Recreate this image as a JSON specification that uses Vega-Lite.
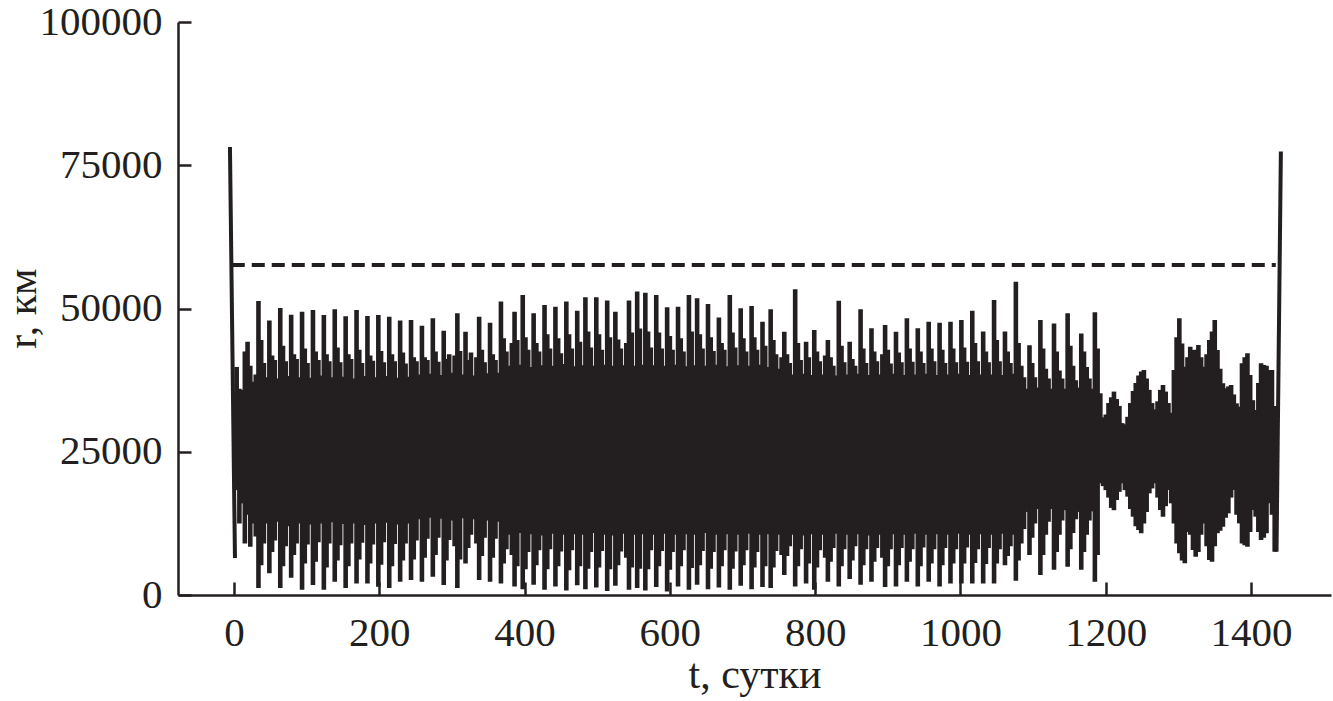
{
"$schema":"https://vega.github.io/schema/vega-lite/v6.json",
"width":1153,"height":573,
"autosize":{"type":"none"},
"padding":{"left":178,"top":22,"right":2,"bottom":106},
"background":"white",
"config":{"view":{"stroke":null}},
"datasets":{
"osc":[
{"t":3.75,"r":18300,"r2":39800},{"t":7.5,"r":12500,"r2":36000},{"t":11.25,"r":16000,"r2":35800},{"t":15,"r":9000,"r2":42500},
{"t":18.75,"r":14000,"r2":44200},{"t":22.5,"r":8400,"r2":40000},{"t":26.25,"r":12500,"r2":37200},{"t":30,"r":10200,"r2":38500},
{"t":33.75,"r":1200,"r2":51300},{"t":37.5,"r":5200,"r2":44500},{"t":41.25,"r":9000,"r2":40500},{"t":45,"r":12500,"r2":38000},
{"t":48.75,"r":3800,"r2":47900},{"t":52.5,"r":7500,"r2":41800},{"t":56.25,"r":9500,"r2":41000},{"t":60,"r":12800,"r2":37800},
{"t":63.75,"r":1200,"r2":50100},{"t":67.5,"r":5000,"r2":43500},{"t":71.25,"r":8500,"r2":40800},{"t":75,"r":12000,"r2":38200},
{"t":78.75,"r":3000,"r2":48900},{"t":82.5,"r":7000,"r2":42000},{"t":86.25,"r":9000,"r2":41200},{"t":90,"r":12500,"r2":38000},
{"t":93.75,"r":900,"r2":49450},{"t":97.5,"r":5500,"r2":43000},{"t":101.25,"r":8800,"r2":40500},{"t":105,"r":12300,"r2":37900},
{"t":108.75,"r":1750,"r2":49740},{"t":112.5,"r":5800,"r2":42500},{"t":116.25,"r":9200,"r2":41000},{"t":120,"r":12500,"r2":38300},
{"t":123.75,"r":900,"r2":48870},{"t":127.5,"r":4800,"r2":42000},{"t":131.25,"r":9000,"r2":40800},{"t":135,"r":12700,"r2":38000},
{"t":138.75,"r":2300,"r2":49860},{"t":142.5,"r":6000,"r2":43200},{"t":146.25,"r":8700,"r2":40600},{"t":150,"r":12400,"r2":38100},
{"t":153.75,"r":1200,"r2":48650},{"t":157.5,"r":5000,"r2":42000},{"t":161.25,"r":9000,"r2":41200},{"t":165,"r":12500,"r2":37800},
{"t":168.75,"r":2000,"r2":49740},{"t":172.5,"r":6200,"r2":42800},{"t":176.25,"r":9100,"r2":40500},{"t":180,"r":12200,"r2":38200},
{"t":183.75,"r":2000,"r2":48700},{"t":187.5,"r":5500,"r2":41800},{"t":191.25,"r":8800,"r2":40900},{"t":195,"r":12500,"r2":38000},
{"t":198.75,"r":1450,"r2":48870},{"t":202.5,"r":5300,"r2":42600},{"t":206.25,"r":9200,"r2":40600},{"t":210,"r":12600,"r2":38200},
{"t":213.75,"r":1200,"r2":48570},{"t":217.5,"r":5000,"r2":42000},{"t":221.25,"r":8900,"r2":40800},{"t":225,"r":12300,"r2":37900},
{"t":228.75,"r":2300,"r2":47900},{"t":232.5,"r":6000,"r2":42300},{"t":236.25,"r":9000,"r2":40400},{"t":240,"r":12500,"r2":38100},
{"t":243.75,"r":2600,"r2":48000},{"t":247.5,"r":6200,"r2":41500},{"t":251.25,"r":9500,"r2":40800},{"t":255,"r":13200,"r2":38500},
{"t":258.75,"r":2300,"r2":47000},{"t":262.5,"r":6500,"r2":41500},{"t":266.25,"r":9800,"r2":41000},{"t":270,"r":13500,"r2":38600},
{"t":273.75,"r":3200,"r2":48300},{"t":277.5,"r":7000,"r2":42500},{"t":281.25,"r":10000,"r2":40700},{"t":285,"r":13300,"r2":38400},
{"t":288.75,"r":1750,"r2":46100},{"t":292.5,"r":6000,"r2":41200},{"t":296.25,"r":9600,"r2":42000},{"t":300,"r":13000,"r2":38800},
{"t":303.75,"r":8500,"r2":41800},{"t":307.5,"r":1200,"r2":49150},{"t":311.25,"r":6200,"r2":42600},{"t":315,"r":13400,"r2":38500},
{"t":318.75,"r":5500,"r2":45950},{"t":322.5,"r":8200,"r2":41000},{"t":326.25,"r":10500,"r2":42300},{"t":330,"r":13200,"r2":38300},
{"t":333.75,"r":9000,"r2":41500},{"t":337.5,"r":2600,"r2":48570},{"t":341.25,"r":6800,"r2":42800},{"t":345,"r":10000,"r2":40600},
{"t":348.75,"r":13000,"r2":38700},{"t":352.5,"r":2300,"r2":47520},{"t":356.25,"r":6500,"r2":42000},{"t":360,"r":9800,"r2":41000},
{"t":363.75,"r":12800,"r2":38800},{"t":367.5,"r":2000,"r2":51200},{"t":371.25,"r":5500,"r2":44800},{"t":375,"r":8000,"r2":42500},
{"t":378.75,"r":10500,"r2":40000},{"t":382.5,"r":7000,"r2":44000},{"t":386.25,"r":1500,"r2":49450},{"t":390,"r":5000,"r2":44500},
{"t":393.75,"r":10800,"r2":40200},{"t":397.5,"r":1000,"r2":52350},{"t":401.25,"r":4500,"r2":45000},{"t":405,"r":7500,"r2":42800},
{"t":408.75,"r":10600,"r2":39800},{"t":412.5,"r":1800,"r2":49150},{"t":416.25,"r":5200,"r2":44000},{"t":420,"r":7800,"r2":42500},
{"t":423.75,"r":10400,"r2":40100},{"t":427.5,"r":900,"r2":50600},{"t":431.25,"r":4500,"r2":45500},{"t":435,"r":8000,"r2":43000},
{"t":438.75,"r":10700,"r2":40000},{"t":442.5,"r":1500,"r2":50300},{"t":446.25,"r":5000,"r2":44800},{"t":450,"r":7600,"r2":42200},
{"t":453.75,"r":10500,"r2":40300},{"t":457.5,"r":800,"r2":51200},{"t":461.25,"r":4300,"r2":45500},{"t":465,"r":7800,"r2":43000},
{"t":468.75,"r":10600,"r2":39900},{"t":472.5,"r":1700,"r2":49600},{"t":476.25,"r":5000,"r2":44200},{"t":480,"r":10500,"r2":40100},
{"t":483.75,"r":1000,"r2":51950},{"t":487.5,"r":4600,"r2":46000},{"t":491.25,"r":7500,"r2":43200},{"t":495,"r":10800,"r2":40000},
{"t":498.75,"r":1300,"r2":51950},{"t":502.5,"r":4800,"r2":45500},{"t":506.25,"r":7700,"r2":42800},{"t":510,"r":10500,"r2":40200},
{"t":513.75,"r":700,"r2":51400},{"t":517.5,"r":4500,"r2":45000},{"t":521.25,"r":10400,"r2":40000},{"t":525,"r":1600,"r2":49450},
{"t":528.75,"r":5200,"r2":44600},{"t":532.5,"r":7600,"r2":43000},{"t":536.25,"r":10700,"r2":40100},{"t":540,"r":6500,"r2":44000},
{"t":543.75,"r":900,"r2":51400},{"t":547.5,"r":4800,"r2":45800},{"t":551.25,"r":10500,"r2":40000},{"t":555,"r":1200,"r2":52950},
{"t":558.75,"r":4600,"r2":46500},{"t":562.5,"r":10600,"r2":40200},{"t":566.25,"r":800,"r2":52770},{"t":570,"r":4500,"r2":46000},
{"t":573.75,"r":7800,"r2":43200},{"t":577.5,"r":10500,"r2":40100},{"t":581.25,"r":1400,"r2":52350},{"t":585,"r":5000,"r2":45800},
{"t":588.75,"r":7700,"r2":43000},{"t":592.5,"r":10700,"r2":40000},{"t":596.25,"r":600,"r2":50200},{"t":600,"r":4400,"r2":45200},
{"t":603.75,"r":7500,"r2":42800},{"t":607.5,"r":10500,"r2":40200},{"t":611.25,"r":1500,"r2":50300},{"t":615,"r":5000,"r2":44800},
{"t":618.75,"r":7800,"r2":42500},{"t":622.5,"r":10600,"r2":39900},{"t":626.25,"r":900,"r2":52350},{"t":630,"r":4700,"r2":46000},
{"t":633.75,"r":10500,"r2":40100},{"t":637.5,"r":1800,"r2":51780},{"t":641.25,"r":5200,"r2":45500},{"t":645,"r":7700,"r2":43000},
{"t":648.75,"r":10800,"r2":40000},{"t":652.5,"r":1000,"r2":50790},{"t":656.25,"r":4600,"r2":45000},{"t":660,"r":7500,"r2":42600},
{"t":663.75,"r":10500,"r2":40200},{"t":667.5,"r":1300,"r2":48450},{"t":671.25,"r":5000,"r2":44000},{"t":675,"r":7800,"r2":42800},
{"t":678.75,"r":10600,"r2":39900},{"t":682.5,"r":900,"r2":52350},{"t":686.25,"r":4600,"r2":45800},{"t":690,"r":7600,"r2":43200},
{"t":693.75,"r":10500,"r2":40100},{"t":697.5,"r":1600,"r2":50030},{"t":701.25,"r":5200,"r2":44800},{"t":705,"r":7800,"r2":42500},
{"t":708.75,"r":10700,"r2":40000},{"t":712.5,"r":1000,"r2":50440},{"t":716.25,"r":4800,"r2":45000},{"t":720,"r":7500,"r2":42800},
{"t":723.75,"r":10500,"r2":40200},{"t":727.5,"r":1400,"r2":47700},{"t":731.25,"r":5000,"r2":43500},{"t":735,"r":10600,"r2":39800},
{"t":738.75,"r":1200,"r2":49860},{"t":742.5,"r":4800,"r2":44500},{"t":746.25,"r":7700,"r2":42000},{"t":750,"r":10500,"r2":39500},
{"t":753.75,"r":7000,"r2":41500},{"t":757.5,"r":3500,"r2":45950},{"t":761.25,"r":6800,"r2":42000},{"t":765,"r":8500,"r2":40500},
{"t":768.75,"r":10500,"r2":38500},{"t":772.5,"r":1500,"r2":53350},{"t":776.25,"r":5000,"r2":44000},{"t":780,"r":8000,"r2":41000},
{"t":783.75,"r":10400,"r2":38600},{"t":787.5,"r":2000,"r2":44200},{"t":791.25,"r":5500,"r2":41500},{"t":795,"r":10600,"r2":38400},
{"t":798.75,"r":900,"r2":46250},{"t":802.5,"r":4800,"r2":42500},{"t":806.25,"r":7800,"r2":40800},{"t":810,"r":10500,"r2":38500},
{"t":813.75,"r":6500,"r2":41800},{"t":817.5,"r":2300,"r2":44500},{"t":821.25,"r":5800,"r2":41500},{"t":825,"r":8200,"r2":40000},
{"t":828.75,"r":10700,"r2":38300},{"t":832.5,"r":1500,"r2":51360},{"t":836.25,"r":5000,"r2":43500},{"t":840,"r":8000,"r2":40600},
{"t":843.75,"r":10500,"r2":38500},{"t":847.5,"r":2800,"r2":44200},{"t":851.25,"r":6000,"r2":41200},{"t":855,"r":8500,"r2":40000},
{"t":858.75,"r":10600,"r2":38600},{"t":862.5,"r":1800,"r2":49860},{"t":866.25,"r":5200,"r2":43000},{"t":870,"r":8000,"r2":40500},
{"t":873.75,"r":10400,"r2":38400},{"t":877.5,"r":2300,"r2":46540},{"t":881.25,"r":5800,"r2":42500},{"t":885,"r":8200,"r2":40800},
{"t":888.75,"r":10500,"r2":38500},{"t":892.5,"r":6500,"r2":42000},{"t":896.25,"r":1400,"r2":47120},{"t":900,"r":5000,"r2":42800},
{"t":903.75,"r":8000,"r2":40400},{"t":907.5,"r":10600,"r2":38600},{"t":911.25,"r":1500,"r2":45950},{"t":915,"r":5200,"r2":42300},
{"t":918.75,"r":8200,"r2":40600},{"t":922.5,"r":10500,"r2":38400},{"t":926.25,"r":2300,"r2":48290},{"t":930,"r":5800,"r2":43000},
{"t":933.75,"r":8000,"r2":40700},{"t":937.5,"r":10700,"r2":38500},{"t":941.25,"r":1500,"r2":46540},{"t":945,"r":5000,"r2":42500},
{"t":948.75,"r":8300,"r2":40500},{"t":952.5,"r":10500,"r2":38600},{"t":956.25,"r":2300,"r2":47700},{"t":960,"r":5500,"r2":43000},
{"t":963.75,"r":8000,"r2":40800},{"t":967.5,"r":10600,"r2":38400},{"t":971.25,"r":1500,"r2":47520},{"t":975,"r":5200,"r2":42800},
{"t":978.75,"r":8200,"r2":40500},{"t":982.5,"r":10500,"r2":38500},{"t":986.25,"r":2000,"r2":47700},{"t":990,"r":5500,"r2":43000},
{"t":993.75,"r":8000,"r2":40600},{"t":997.5,"r":10700,"r2":38600},{"t":1001.25,"r":2000,"r2":48000},{"t":1005,"r":5500,"r2":43200},
{"t":1008.75,"r":8300,"r2":40700},{"t":1012.5,"r":10500,"r2":38400},{"t":1016.25,"r":2000,"r2":49600},{"t":1020,"r":5600,"r2":44000},
{"t":1023.75,"r":8000,"r2":40800},{"t":1027.5,"r":10600,"r2":38500},{"t":1031.25,"r":2000,"r2":46000},{"t":1035,"r":5400,"r2":42500},
{"t":1038.75,"r":8200,"r2":40600},{"t":1042.5,"r":10500,"r2":38500},{"t":1046.25,"r":2000,"r2":51500},{"t":1050,"r":5500,"r2":44500},
{"t":1053.75,"r":8000,"r2":40800},{"t":1057.5,"r":10700,"r2":38400},{"t":1061.25,"r":5200,"r2":46000},{"t":1065,"r":6800,"r2":42500},
{"t":1068.75,"r":8500,"r2":40500},{"t":1072.5,"r":10500,"r2":38600},{"t":1076.25,"r":2500,"r2":54680},{"t":1080,"r":6000,"r2":44000},
{"t":1083.75,"r":9000,"r2":40000},{"t":1087.5,"r":11500,"r2":38000},{"t":1091.25,"r":14500,"r2":36000},{"t":1095,"r":7000,"r2":43600},
{"t":1098.75,"r":10000,"r2":40500},{"t":1102.5,"r":12500,"r2":38000},{"t":1106.25,"r":15000,"r2":36200},{"t":1110,"r":3500,"r2":48000},
{"t":1113.75,"r":7000,"r2":43000},{"t":1117.5,"r":10500,"r2":39500},{"t":1121.25,"r":12800,"r2":37800},{"t":1125,"r":15000,"r2":36000},
{"t":1128.75,"r":4400,"r2":47400},{"t":1132.5,"r":7500,"r2":42500},{"t":1136.25,"r":10500,"r2":39200},{"t":1140,"r":13000,"r2":37800},
{"t":1143.75,"r":14800,"r2":36000},{"t":1147.5,"r":4940,"r2":49150},{"t":1151.25,"r":8000,"r2":43500},{"t":1155,"r":10800,"r2":40000},
{"t":1158.75,"r":13200,"r2":37500},{"t":1162.5,"r":14500,"r2":36200},{"t":1166.25,"r":4400,"r2":45650},{"t":1170,"r":7500,"r2":42500},
{"t":1173.75,"r":10500,"r2":39800},{"t":1177.5,"r":13000,"r2":37800},{"t":1181.25,"r":14600,"r2":36000},{"t":1185,"r":2300,"r2":49350},
{"t":1188.75,"r":7000,"r2":43000},{"t":1192.5,"r":19490,"r2":35200},{"t":1196.25,"r":19000,"r2":31000},{"t":1200,"r":18300,"r2":31500},
{"t":1203.75,"r":17000,"r2":33500},{"t":1207.5,"r":15200,"r2":34500},{"t":1211.25,"r":14800,"r2":35500},{"t":1215,"r":16580,"r2":34200},
{"t":1218.75,"r":18000,"r2":33000},{"t":1222.5,"r":19490,"r2":30000},{"t":1226.25,"r":18300,"r2":29800},{"t":1230,"r":17160,"r2":31100},
{"t":1233.75,"r":15000,"r2":33500},{"t":1237.5,"r":13670,"r2":35600},{"t":1241.25,"r":12000,"r2":37000},{"t":1245,"r":11340,"r2":38300},
{"t":1248.75,"r":10770,"r2":39000},{"t":1252.5,"r":12500,"r2":39270},{"t":1256.25,"r":14500,"r2":37800},{"t":1260,"r":17740,"r2":35800},
{"t":1263.75,"r":18600,"r2":33500},{"t":1267.5,"r":19490,"r2":32400},{"t":1271.25,"r":17000,"r2":33800},{"t":1275,"r":14830,"r2":35800},
{"t":1278.75,"r":13670,"r2":36650},{"t":1282.5,"r":15500,"r2":35500},{"t":1286.25,"r":18330,"r2":33500},{"t":1290,"r":16000,"r2":31800},
{"t":1293.75,"r":12500,"r2":39270},{"t":1297.5,"r":9000,"r2":45000},{"t":1301.25,"r":7270,"r2":48290},{"t":1305,"r":6000,"r2":43900},
{"t":1308.75,"r":5530,"r2":39850},{"t":1312.5,"r":11000,"r2":41500},{"t":1316.25,"r":10500,"r2":43330},{"t":1320,"r":7850,"r2":42760},
{"t":1323.75,"r":6680,"r2":42800},{"t":1327.5,"r":7500,"r2":43630},{"t":1331.25,"r":10500,"r2":41500},{"t":1335,"r":12500,"r2":39850},
{"t":1338.75,"r":8500,"r2":42000},{"t":1342.5,"r":6100,"r2":44500},{"t":1346.25,"r":5820,"r2":46000},{"t":1350,"r":8500,"r2":48000},
{"t":1353.75,"r":10770,"r2":42760},{"t":1357.5,"r":11200,"r2":39500},{"t":1361.25,"r":11920,"r2":36950},{"t":1365,"r":13500,"r2":36070},
{"t":1368.75,"r":14250,"r2":36400},{"t":1372.5,"r":17000,"r2":36650},{"t":1376.25,"r":18330,"r2":35000},{"t":1380,"r":14000,"r2":33450},
{"t":1383.75,"r":12500,"r2":32860},{"t":1387.5,"r":9000,"r2":40430},{"t":1391.25,"r":8700,"r2":41500},{"t":1395,"r":8430,"r2":42180},
{"t":1398.75,"r":11000,"r2":38400},{"t":1402.5,"r":14830,"r2":34000},{"t":1406.25,"r":13670,"r2":32290},{"t":1410,"r":11000,"r2":37000},
{"t":1413.75,"r":9600,"r2":40430},{"t":1417.5,"r":10000,"r2":40140},{"t":1421.25,"r":10770,"r2":40000},{"t":1425,"r":16000,"r2":39270},
{"t":1428.75,"r":14000,"r2":39270},{"t":1432.5,"r":7560,"r2":33000}
],
"edges":[
{"t":-5.5,"r":78200,"g":"a"},{"t":1.4,"r":6450,"g":"a"},
{"t":1435,"r":7560,"g":"b"},{"t":1441,"r":77400,"g":"b"}
],
"ref":[{"t":-3,"r":57600},{"t":1434,"r":57600}]
},
"encoding":{
"x":{"field":"t","type":"quantitative",
"scale":{"domain":[-77,1510],"nice":false,"zero":false},
"axis":{"values":[0,200,400,600,800,1000,1200,1400],"format":"d","title":"t, сутки","grid":false,
"tickSize":-13,"tickWidth":2.5,"tickColor":"#231f20","domainColor":"#231f20","domainWidth":2.5,
"labelFont":"Liberation Serif","labelFontSize":41,"labelColor":"#231f20","labelPadding":31,"labelFlush":false,"labelOverlap":false,
"titleFont":"Liberation Serif","titleFontSize":42,"titleFontWeight":"normal","titleColor":"#231f20","titleBaseline":"alphabetic","titleY":92}},
"y":{"field":"r","type":"quantitative",
"scale":{"domain":[0,100000],"nice":false,"zero":true},
"axis":{"values":[0,25000,50000,75000,100000],"format":"d","title":"r, км","grid":false,
"tickSize":-13,"tickWidth":2.5,"tickColor":"#231f20","domainColor":"#231f20","domainWidth":2.5,
"labelFont":"Liberation Serif","labelFontSize":41,"labelColor":"#231f20","labelPadding":29,"labelFlush":false,"labelOverlap":false,
"titleFont":"Liberation Serif","titleFontSize":42,"titleFontWeight":"normal","titleColor":"#231f20","titleBaseline":"alphabetic","titleX":-143,"titleY":286}}
},
"layer":[
{"data":{"name":"osc"},"mark":{"type":"rule","strokeWidth":4.6,"color":"#231f20","strokeCap":"butt"},
"encoding":{"y2":{"field":"r2"}}},
{"data":{"name":"edges"},"mark":{"type":"line","strokeWidth":4,"color":"#231f20","strokeCap":"butt"},
"encoding":{"detail":{"field":"g"}}},
{"data":{"name":"ref"},"mark":{"type":"line","strokeWidth":4,"color":"#231f20","strokeDash":[13,7],"strokeCap":"butt"},
"encoding":{}}
]
}
